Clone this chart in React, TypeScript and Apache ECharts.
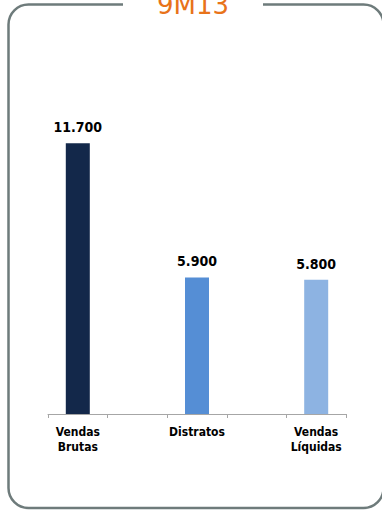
import React, { useEffect, useRef } from "react";
import * as echarts from "echarts";

const categories = ["Vendas\nBrutas", "", "Distratos", "", "Vendas\nLíquidas"];
const values: (number | null)[] = [11700, null, 5900, null, 5800];
const barColors = ["#13284A", "#8DB3E2", "#558ED5", "#8DB3E2", "#8DB3E2"];
const title = "9M13";

const FONT = "'DejaVu Sans Condensed', 'DejaVu Sans', Verdana, sans-serif";

function fmt(v: number): string {
  return String(v).replace(/\B(?=(\d{3})+(?!\d))/g, ".");
}

export default function App() {
  const ref = useRef<HTMLDivElement>(null);
  useEffect(() => {
    const chart = echarts.init(ref.current!, null, { renderer: "svg" });
    chart.setOption({
      animation: false,
      backgroundColor: "#ffffff",
      graphic: [
        {
          type: "rect",
          shape: { x: 8.5, y: 4.5, width: 375, height: 503.5, r: 20 },
          style: { fill: "none", stroke: "#6E7B7B", lineWidth: 2.5 },
          silent: true,
        },
        {
          type: "rect",
          shape: { x: 123, y: 0, width: 140, height: 10 },
          style: { fill: "#ffffff" },
          silent: true,
        },
        {
          type: "text",
          x: 193,
          y: 18,
          style: {
            text: title,
            fill: "#E8731A",
            font: "normal 26px 'DejaVu Sans', Verdana, sans-serif",
            textAlign: "center",
            textVerticalAlign: "bottom",
          },
          silent: true,
        },
      ],
      grid: { left: 48, right: 36, top: 90, bottom: 101 },
      xAxis: {
        type: "category",
        data: categories,
        axisLine: { lineStyle: { color: "#A6A6A6", width: 1 } },
        axisTick: { show: true, length: 4, lineStyle: { color: "#A6A6A6" } },
        axisLabel: {
          interval: 0,
          margin: 10,
          color: "#000000",
          fontFamily: FONT,
          fontWeight: "bold",
          fontSize: 12,
          lineHeight: 15,
        },
      },
      yAxis: {
        type: "value",
        min: 0,
        max: 14000,
        show: false,
        splitLine: { show: false },
      },
      series: [
        {
          type: "bar",
          barWidth: 24,
          data: values.map((v, i) => ({
            value: v,
            itemStyle: { color: barColors[i] },
          })),
          label: {
            show: true,
            position: "top",
            distance: 9,
            color: "#000000",
            fontFamily: FONT,
            fontWeight: "bold",
            fontSize: 14,
            formatter: (p: any) => (p.value == null ? "" : fmt(p.value)),
          },
        },
      ],
    });
    return () => chart.dispose();
  }, []);
  return (
    <div
      ref={ref}
      style={{ position: "fixed", left: 0, top: 0, width: 382, height: 515 }}
    />
  );
}
